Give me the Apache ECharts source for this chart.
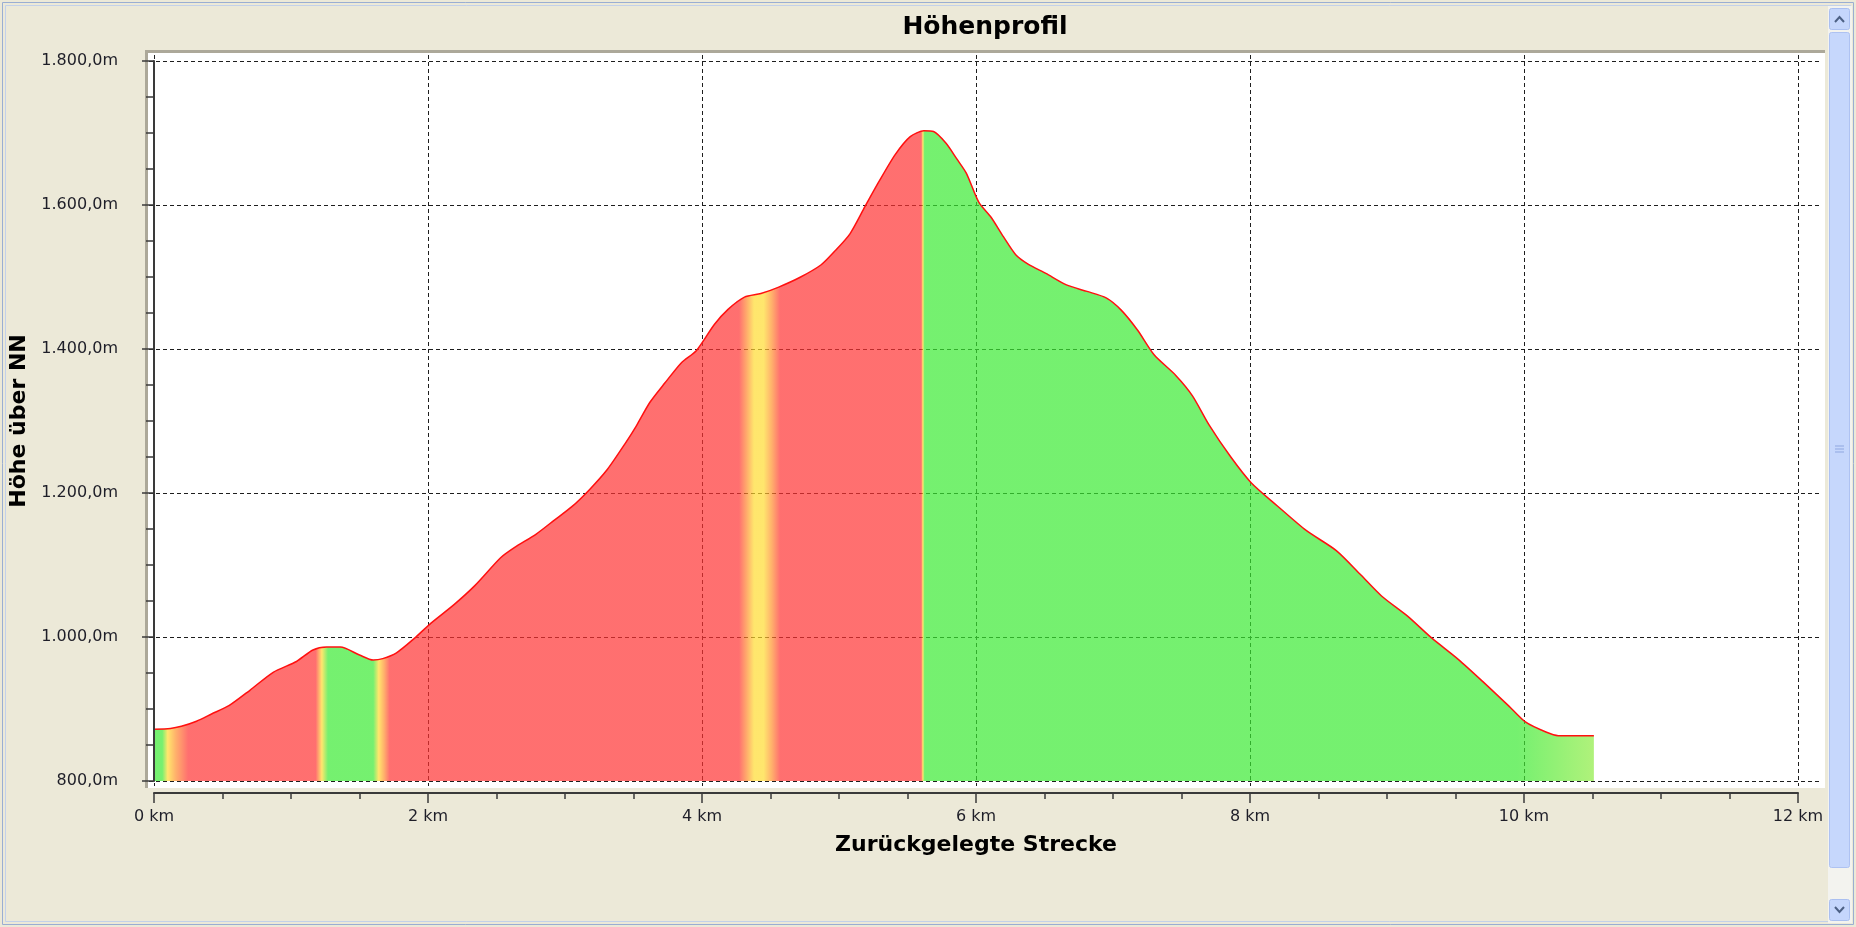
<!DOCTYPE html>
<html lang="de">
<head>
    <meta charset="UTF-8">
    <title>Höhenprofil</title>
    <script src="https://cdn.jsdelivr.net/npm/echarts@6/dist/echarts.min.js"></script>
    <style>
        html, body { margin: 0; padding: 0; background: #ece9d8; overflow: hidden; }
        #main { width: 1856px; height: 927px; }
    </style>
</head>
<body>
<div id="main"></div>
<script>
    // Strecke in km und Höhe über NN in m
    var streckeKm = [0.00, 0.12, 0.20, 0.31, 0.42, 0.55, 0.70, 0.87, 1.04, 1.16, 1.26, 1.36, 1.50, 1.60, 1.67, 1.77,
        1.90, 2.02, 2.19, 2.34, 2.53, 2.63, 2.79, 2.92, 3.05, 3.18, 3.31, 3.44, 3.52, 3.62, 3.73, 3.85, 3.96,
        4.09, 4.19, 4.31, 4.43, 4.56, 4.72, 4.87, 4.96, 5.08, 5.19, 5.29, 5.41, 5.52, 5.62, 5.69, 5.78, 5.86,
        5.93, 6.02, 6.11, 6.20, 6.29, 6.38, 6.51, 6.66, 6.81, 6.95, 7.06, 7.18, 7.30, 7.46, 7.58, 7.70, 7.86,
        8.01, 8.20, 8.41, 8.63, 8.81, 8.96, 9.15, 9.33, 9.52, 9.70, 9.89, 10.01, 10.16, 10.25, 10.51];
    var hoeheM = [872, 873, 876, 883, 893, 905, 926, 951, 966, 982, 986, 986, 975, 968, 970, 978,
        998, 1019, 1045, 1071, 1110, 1124, 1143, 1162, 1181, 1205, 1233, 1269, 1293, 1326, 1353, 1381, 1398,
        1434, 1455, 1472, 1477, 1486, 1500, 1517, 1534, 1560, 1598, 1632, 1670, 1695, 1703, 1702, 1686, 1664,
        1644, 1604, 1583, 1556, 1531, 1518, 1505, 1489, 1480, 1471, 1454, 1426, 1392, 1363, 1335, 1295, 1250,
        1214, 1182, 1148, 1120, 1086, 1057, 1029, 998, 969, 938, 904, 882, 868, 863, 863];

    // Steigungsklassen entlang der Strecke (Farbverlauf der Fläche)
    var bandKm = [0.00, 0.06, 0.10, 0.16, 0.25, 1.18, 1.225, 1.27, 1.60, 1.64, 1.68, 1.72,
        4.27, 4.33, 4.38, 4.45, 4.51, 4.57, 5.600, 5.612, 5.625, 9.95, 10.51];
    var bandKlasse = ['ab', 'ab', 'eben', 'auf_leicht', 'auf', 'auf', 'eben', 'ab', 'ab', 'eben', 'auf_leicht', 'auf',
        'auf', 'auf_leicht', 'eben', 'eben', 'auf_leicht', 'auf', 'auf', 'eben', 'ab', 'ab', 'ab_leicht'];

    var xTicks = [0, 2, 4, 6, 8, 10, 12];
    var yTicks = [800, 1000, 1200, 1400, 1600, 1800];

    // Farben etwas kräftiger, weil die Fläche halbtransparent über dem Gitter liegt
    var klassenFarbe = {
        auf: '#ff3232',
        auf_leicht: '#ff8e2c',
        eben: '#ffdb2e',
        ab_leicht: '#8eec42',
        ab: '#3aea32'
    };

    // Zeichenfläche (Pixel)
    var plot = {left: 154, right: 1798, top: 61, bottom: 781};
    var panel = {left: 149, right: 1822, top: 55, bottom: 786};
    var W = 1856, H = 927;

    var pxKm = (plot.right - plot.left) / (xTicks[xTicks.length - 1] - xTicks[0]);
    var pxM = (plot.bottom - plot.top) / (yTicks[yTicks.length - 1] - yTicks[0]);

    function fmtHoehe(v) {
        var s = String(Math.round(v));
        if (s.length > 3) s = s.slice(0, -3) + '.' + s.slice(-3);
        return s + ',0m';
    }

    var stops = [];
    var endKm = streckeKm[streckeKm.length - 1];
    for (var i = 0; i < bandKm.length; i++) {
        stops.push({offset: bandKm[i] / endKm, color: klassenFarbe[bandKlasse[i]]});
    }

    var daten = [];
    for (var j = 0; j < streckeKm.length; j++) {
        daten.push([streckeKm[j], hoeheM[j]]);
    }

    var gitter = {type: [4, 3], color: '#1e1e1e', width: 1};
    var achse = '#3a3a3a';
    var font = 'DejaVu Sans';

    var myChart = echarts.init(document.getElementById('main'));
    var option = {
        backgroundColor: '#ece9d8',
        animation: false,
        grid: [
            {
                left: panel.left, top: panel.top,
                width: panel.right - panel.left, height: panel.bottom - panel.top,
                outerBoundsMode: 'none'
            },
            {
                left: plot.left, top: plot.top,
                width: plot.right - plot.left, height: plot.bottom - plot.top,
                outerBoundsMode: 'none'
            }
        ],
        xAxis: [
            {
                gridIndex: 0, type: 'value',
                min: xTicks[0] - (plot.left - panel.left) / pxKm,
                max: xTicks[xTicks.length - 1] + (panel.right - plot.right) / pxKm,
                axisLine: {show: false},
                axisTick: {show: false, customValues: xTicks},
                axisLabel: {show: false, customValues: xTicks},
                splitLine: {show: true, lineStyle: gitter}
            },
            {
                gridIndex: 1, type: 'value', z: 6,
                min: 0, max: 12, interval: 2, offset: 12,
                name: 'Zurückgelegte Strecke', nameLocation: 'middle', nameGap: 41,
                nameTextStyle: {fontFamily: font, fontWeight: 'bold', fontSize: 22, color: '#000'},
                axisLine: {show: true, lineStyle: {color: achse, width: 2}},
                axisTick: {show: true, length: 10, lineStyle: {color: achse, width: 1.5}},
                minorTick: {show: true, splitNumber: 4, length: 6, lineStyle: {color: achse, width: 1.5}},
                axisLabel: {
                    margin: 16, fontFamily: font, fontSize: 16, color: '#1e1e28',
                    formatter: '{value} km'
                },
                splitLine: {show: false}
            }
        ],
        yAxis: [
            {
                gridIndex: 0, type: 'value',
                min: yTicks[0] - (panel.bottom - plot.bottom) / pxM,
                max: yTicks[yTicks.length - 1] + (plot.top - panel.top) / pxM,
                axisLine: {show: false},
                axisTick: {show: false, customValues: yTicks},
                axisLabel: {show: false, customValues: yTicks},
                splitLine: {show: true, lineStyle: gitter}
            },
            {
                gridIndex: 1, type: 'value', z: 6,
                min: 800, max: 1800, interval: 200, offset: 14,
                name: 'Höhe über NN', nameLocation: 'middle', nameGap: 95, nameRotate: 90,
                nameTextStyle: {fontFamily: font, fontWeight: 'bold', fontSize: 22, color: '#000'},
                axisLine: {show: true, lineStyle: {color: achse, width: 2}},
                axisTick: {show: true, length: 12, lineStyle: {color: achse, width: 1.5}},
                minorTick: {show: true, splitNumber: 4, length: 8, lineStyle: {color: achse, width: 1.5}},
                axisLabel: {
                    margin: 22, fontFamily: font, fontSize: 16, color: '#1e1e28',
                    formatter: fmtHoehe
                },
                splitLine: {show: false}
            }
        ],
        graphic: [
            // Fensterrahmen
            {type: 'rect', z: -10, shape: {x: 2.5, y: 2.5, width: W - 5, height: H - 5},
                style: {fill: 'none', stroke: '#9aaed2', lineWidth: 1}},
            {type: 'rect', z: -10, shape: {x: 5.5, y: 5.5, width: W - 11, height: H - 11},
                style: {fill: 'none', stroke: '#c3d1ea', lineWidth: 1}},
            // Zeichenfläche mit Schatten
            {type: 'rect', z: -9, shape: {x: 145, y: 50, width: 1680, height: 738},
                style: {fill: '#aca899'}},
            {type: 'rect', z: -8, shape: {x: 148, y: 53, width: 1677, height: 735},
                style: {fill: '#ffffff'}},
            // Bildlaufleiste
            {type: 'rect', z: -9, shape: {x: 1828, y: 6, width: 24, height: 917},
                style: {fill: '#f3f3ef'}},
            {type: 'rect', z: -8, shape: {x: 1829.5, y: 8.5, width: 20, height: 21, r: 2},
                style: {fill: '#c5d6fc', stroke: '#aabff0', lineWidth: 1}},
            {type: 'polyline', z: -7, shape: {points: [[1835, 22], [1839.5, 17], [1844, 22]]},
                style: {stroke: '#4d6185', lineWidth: 2, fill: 'none'}},
            {type: 'rect', z: -8, shape: {x: 1829.5, y: 32.5, width: 20, height: 835, r: 2},
                style: {fill: '#c6d7fc', stroke: '#aec2f2', lineWidth: 1}},
            {type: 'polyline', z: -7, shape: {points: [[1835, 446], [1844, 446]]},
                style: {stroke: '#8fa7e0', lineWidth: 1}},
            {type: 'polyline', z: -7, shape: {points: [[1835, 449], [1844, 449]]},
                style: {stroke: '#8fa7e0', lineWidth: 1}},
            {type: 'polyline', z: -7, shape: {points: [[1835, 452], [1844, 452]]},
                style: {stroke: '#8fa7e0', lineWidth: 1}},
            {type: 'rect', z: -8, shape: {x: 1829.5, y: 899.5, width: 20, height: 21, r: 2},
                style: {fill: '#c5d6fc', stroke: '#aabff0', lineWidth: 1}},
            {type: 'polyline', z: -7, shape: {points: [[1835, 907], [1839.5, 912], [1844, 907]]},
                style: {stroke: '#4d6185', lineWidth: 2, fill: 'none'}},
            // Titel
            {type: 'text', z: 10, x: 985, y: 27,
                style: {text: 'Höhenprofil', align: 'center', verticalAlign: 'middle',
                    fontFamily: font, fontWeight: 'bold', fontSize: 25, fill: '#000'}}
        ],
        series: [
            {
                name: 'Höhe',
                type: 'line',
                xAxisIndex: 1,
                yAxisIndex: 1,
                data: daten,
                symbol: 'none',
                smooth: 0.25,
                z: 2,
                lineStyle: {color: '#ff1010', width: 1.5},
                areaStyle: {
                    color: new echarts.graphic.LinearGradient(0, 0, 1, 0, stops),
                    opacity: 0.7
                }
            }
        ]
    };
    myChart.setOption(option);
</script>
</body>
</html>
